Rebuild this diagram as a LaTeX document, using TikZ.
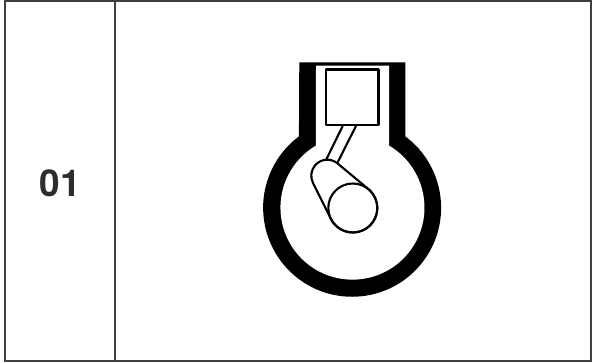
\documentclass[tikz,border=0pt]{standalone}
\usepackage{fontspec}
\setmainfont{TeX Gyre Heros}
\definecolor{framecol}{HTML}{404040}
\tikzset{
  framerule/.style={draw=framecol,line width=1.4pt},
  partline/.style={draw=black,line width=2.1pt,line join=round},
  whitepart/.style={partline,fill=white},
  numlabel/.style={font=\bfseries\fontsize{37}{37}\selectfont,text={rgb,255:red,45;green,45;blue,45},inner sep=0pt}
}
\begin{document}
\begin{tikzpicture}[x=1pt,y=1pt]
\useasboundingbox (0,0) rectangle (592,362);
\fill[white] (0,0) rectangle (592,362);
% frame
\draw[framerule] (5,361) -- (591,361) -- (591,1) -- (5,1) -- cycle;
\draw[framerule] (115,361) -- (115,1);
\node[numlabel] (num) at (60,178.5) {01};
% casing
\fill[black] (299.3,299.7) -- (405.3,299.7) -- (405.3,225.6)
  arc[start angle=53.3,end angle=-233.3,radius=89] -- cycle;
\fill[white] (316,296.3) -- (389,296.3) -- (389,216.4)
  arc[start angle=59.5,end angle=-239.5,radius=72] -- cycle;
% rod
\coordinate (rodA) at (342.7,236);
\coordinate (rodB) at (356,236);
\coordinate (rodC) at (326,202);
\coordinate (rodD) at (337.3,199);
\draw[partline] (rodA) -- (rodC);
\draw[partline] (rodB) -- (rodD);
% piston
\draw[partline,line width=2.3pt] (326.2,292.5) rectangle (378.5,237);
% slot
\draw[whitepart] (337.5,198.6)
  arc[start angle=50.3,end angle=206.3,radius=16]
  -- (330.85,143.15)
  arc[start angle=206.3,end angle=410.3,radius=24.5] -- cycle;
% crank
\draw[partline] (352.8,154) circle[radius=24.5];
\end{tikzpicture}
\end{document}
